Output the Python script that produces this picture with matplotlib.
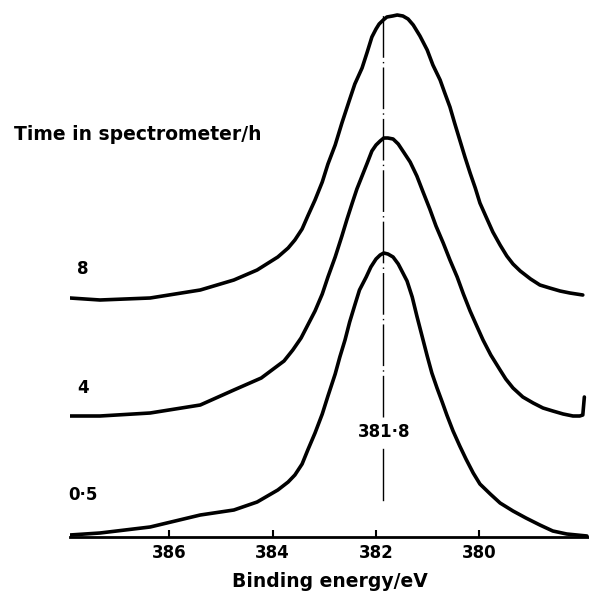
import matplotlib
matplotlib.use("Agg")
import matplotlib.pyplot as plt

# binding energy (eV) and stacked intensity (arb. units, axis = 0)
e_05 = [387.92, 387.34, 386.37, 385.40, 384.75, 384.30, 383.90, 383.70, 383.57, 383.43,
        383.32, 383.18, 383.04, 382.93, 382.79, 382.70, 382.60, 382.51, 382.41, 382.32,
        382.19, 382.10, 382.00, 381.92, 381.85, 381.77, 381.67, 381.57, 381.48, 381.40,
        381.30, 381.21, 381.11, 381.01, 380.92, 380.82, 380.72, 380.63, 380.51, 380.38,
        380.26, 380.12, 379.99, 379.79, 379.60, 379.35, 379.10, 378.83, 378.58, 378.31,
        377.92]
i_05 = [2, 4, 10, 22, 27, 35, 47, 55, 62, 73,
        87, 104, 123, 141, 163, 180, 197, 215, 232, 247,
        260, 270, 278, 282, 284, 283, 280, 273, 264, 256,
        240, 221, 201, 181, 164, 149, 135, 122, 106, 91,
        78, 64, 53, 43, 34, 26, 19, 12, 6, 3,
        1]

e_4 = [387.92, 387.34, 386.37, 385.40, 384.75, 384.22, 383.78, 383.61, 383.45, 383.32,
       383.18, 383.04, 382.93, 382.79, 382.66, 382.56, 382.46, 382.37, 382.27, 382.17,
       382.08, 382.00, 381.92, 381.85, 381.77, 381.67, 381.57, 381.48, 381.34, 381.21,
       381.09, 380.96, 380.84, 380.70, 380.57, 380.43, 380.31, 380.18, 380.06, 379.93,
       379.78, 379.60, 379.49, 379.35, 379.16, 378.96, 378.77, 378.58, 378.38, 378.19,
       378.06, 378.00, 377.97]
i_4 = [121, 121, 124, 132, 147, 159, 176, 187, 199, 212,
       226, 243, 260, 280, 301, 318, 334, 348, 361, 374,
       386, 392, 396, 399, 399, 398, 393, 386, 375, 361,
       345, 328, 311, 294, 277, 260, 243, 226, 212, 197,
       182, 167, 158, 149, 140, 134, 129, 126, 123, 121,
       121, 122, 140]

e_8 = [387.92, 387.34, 386.37, 385.40, 384.75, 384.30, 383.90, 383.70, 383.57, 383.43,
       383.32, 383.18, 383.04, 382.93, 382.79, 382.66, 382.52, 382.41, 382.27, 382.17,
       382.08, 382.00, 381.94, 381.86, 381.79, 381.68, 381.59, 381.48, 381.38, 381.28,
       381.15, 381.01, 380.90, 380.76, 380.67, 380.57, 380.48, 380.38, 380.28, 380.18,
       380.08, 379.99, 379.87, 379.74, 379.60, 379.47, 379.35, 379.21, 379.01, 378.83,
       378.64, 378.44, 378.25, 378.00]
i_8 = [239, 237, 239, 247, 257, 267, 280, 289, 297, 308,
       321, 337, 355, 373, 392, 414, 436, 453, 469, 485,
       500, 508, 513, 517, 520, 521, 522, 521, 518, 512,
       501, 487, 472, 457, 444, 430, 414, 397, 380, 364,
       349, 334, 320, 305, 292, 281, 273, 266, 258, 252,
       249, 246, 244, 242]

times = ["0·5", "4", "8"]
label_heights = [42, 149, 268]
peak_pos = 381.86
ticks = [386, 384, 382, 380]

fig = plt.figure(figsize=(5.89, 5.94), dpi=100)
ax = fig.add_axes([70 / 589, 57 / 594, 519 / 589, 537 / 594])

for e, i in [(e_05, i_05), (e_4, i_4), (e_8, i_8)]:
    ax.plot(e, i, color="black", lw=2.6, solid_capstyle="round", solid_joinstyle="round")

# peak marker line with a gap for its label
ax.plot([peak_pos, peak_pos], [37, 88], color="black", lw=1.0)
ax.plot([peak_pos, peak_pos], [120, 522], color="black", lw=1.0,
        linestyle=(0, (30, 3, 1, 3)))
ax.text(peak_pos - 0.02, 105, "381·8", ha="center", va="center", fontsize=12,
        fontweight="bold")

for t, h in zip(times, label_heights):
    ax.text(387.67, h, t, ha="center", va="center", fontsize=12, fontweight="bold")

fig.text(14 / 589, 1 - 135 / 594, "Time in spectrometer/h", ha="left", va="center",
         fontsize=13.5, fontweight="bold")

ax.set_xlim(387.92, 377.88)
ax.set_ylim(0, 537)
ax.set_xticks(ticks)
ax.set_yticks([])
for s in ["left", "top", "right"]:
    ax.spines[s].set_visible(False)
ax.spines["bottom"].set_linewidth(2)
ax.tick_params(axis="x", direction="in", length=5, width=1.5, pad=5, labelsize=12)
for lab in ax.get_xticklabels():
    lab.set_fontweight("bold")
ax.set_xlabel("Binding energy/eV", fontsize=13.5, fontweight="bold", labelpad=7)

fig.savefig("out.png", dpi=100)
